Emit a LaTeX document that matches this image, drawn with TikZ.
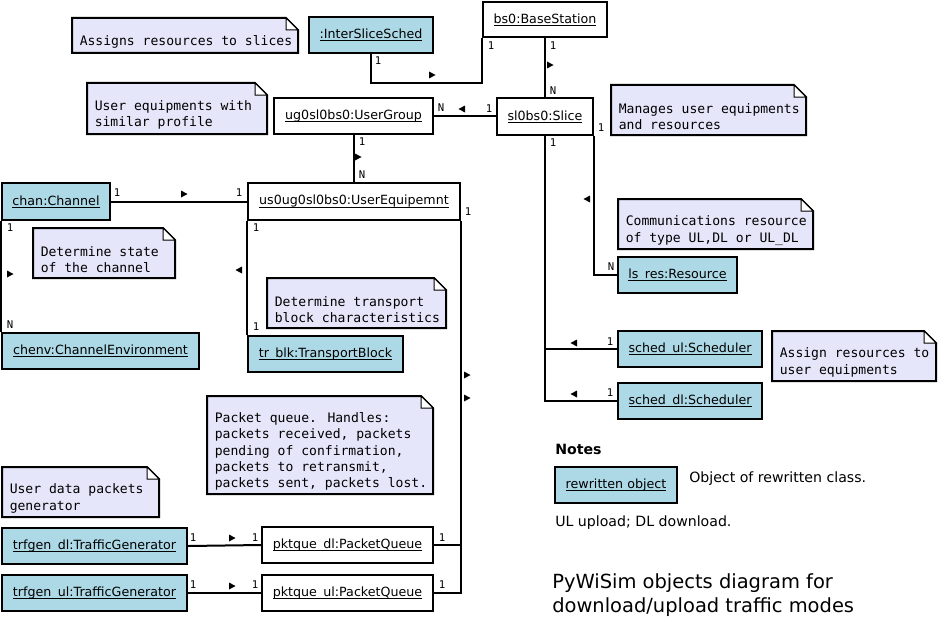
\documentclass[tikz,border=0pt]{standalone}
\usepackage{fontspec}
\setmainfont{DejaVu Sans}
\newfontfamily\monofont{DejaVu Sans Mono}
\definecolor{objblue}{RGB}{173,216,230}
\definecolor{notefill}{RGB}{230,230,250}
\newcommand\ulx[1]{\setbox0\hbox{#1}\rlap{\rule[-1.8pt]{\wd0}{0.6pt}}\box0}
\tikzset{
 conn/.style={line width=1.5pt},
 objbase/.style={draw, line width=1.5pt, inner sep=0pt, font=\fontsize{9.5}{11}\selectfont},
 objw/.style={objbase, fill=white},
 objb/.style={objbase, fill=objblue},
 notebody/.style={draw, line width=1.5pt, fill=notefill},
 notefold/.style={draw, line width=0.75pt, fill=white},
 notetext/.style={anchor=west, inner sep=0pt, align=left, font=\monofont\fontsize{9.8}{12.2}\selectfont},
 mult/.style={inner sep=0pt, font=\monofont\fontsize{8}{9}\selectfont},
 legtext/.style={anchor=west, inner sep=0pt, font=\fontsize{10.6}{13}\selectfont},
 rtri/.pic={\fill (-3,-3.5) -- (3.5,0) -- (-3,3.5) -- cycle;},
 ltri/.pic={\fill (3,-3.5) -- (-3.5,0) -- (3,3.5) -- cycle;},
}
\newcommand\objbox[7]{\node[#6, minimum width={(#4-#2)*0.75pt}, minimum height={(#5-#3)*0.75pt}] (#1) at ({(#2+#4)/2},{(#3+#5)/2}) {\ulx{#7}};}
\newcommand\notebox[6]{%
 \draw[notebody] (#2,#3) -- ({#4-12},#3) -- (#4,{#3+12}) -- (#4,#5) -- (#2,#5) -- cycle;
 \draw[notefold] ({#4-12},#3) -- ({#4-12},{#3+12}) -- (#4,{#3+12}) -- cycle;
 \node[notetext] (#1) at ({#2+7.5},{(#3+#5)/2+6.5}) {#6};}
\begin{document}
\begin{tikzpicture}[x=0.75pt, y=-0.75pt]
\useasboundingbox[fill=white] (0,0) rectangle (938,617);
% notes
\notebox{n1}{72}{18}{298}{53}{Assigns resources to slices}
\notebox{n2}{87}{83}{267}{134}{User equipments with\\similar profile}
\notebox{n3}{611}{85}{806}{135}{Manages user equipments\\and resources}
\notebox{n4}{33}{228}{175}{278}{Determine state\\of the channel}
\notebox{n5}{267}{278}{446}{328}{Determine transport\\block characteristics}
\notebox{n6}{618}{199}{813}{249}{Communications resource\\of type UL,DL or UL\_DL}
\notebox{n7}{772}{331}{936}{381}{Assign resources to\\user equipments}
\notebox{n8}{207}{396}{433}{494}{Packet queue. Handles:\\packets received, packets\\pending of confirmation,\\packets to retransmit,\\packets sent, packets lost.}
\notebox{n9}{2}{467}{159}{517}{User data packets\\generator}
% objects
\objbox{iss}{309}{17}{433}{53}{objb}{:InterSliceSched}
\objbox{bs}{483}{2}{607}{37}{objw}{bs0:BaseStation}
\objbox{ug}{274}{98}{433}{134}{objw}{ug0sl0bs0:UserGroup}
\objbox{sl}{497}{98}{593}{135}{objw}{sl0bs0:Slice}
\objbox{chan}{2}{183}{110}{220}{objb}{chan:Channel}
\objbox{ue}{248}{183}{460}{220}{objw}{us0ug0sl0bs0:UserEquipemnt}
\objbox{chenv}{2}{333}{199}{369}{objb}{chenv:ChannelEnvironment}
\objbox{trb}{248}{336}{403}{372}{objb}{tr\_blk:TransportBlock}
\objbox{res}{618}{257}{737}{293}{objb}{ls\_res:Resource}
\objbox{su}{618}{331}{762}{367}{objb}{sched\_ul:Scheduler}
\objbox{sd}{618}{383}{762}{419}{objb}{sched\_dl:Scheduler}
\objbox{td}{2}{528}{187}{564}{objb}{trfgen\_dl:TrafficGenerator}
\objbox{pd}{262}{527}{433}{563}{objw}{pktque\_dl:PacketQueue}
\objbox{tu}{2}{575}{187}{611}{objb}{trfgen\_ul:TrafficGenerator}
\objbox{pu}{262}{575}{433}{611}{objw}{pktque\_ul:PacketQueue}
\objbox{leg}{555}{467}{677}{503}{objb}{rewritten object}
% connectors
\draw[conn] (iss.south) -- ++(0,29) -| (bs.south west);
\draw[conn] (bs.south) -- (sl.north);
\draw[conn] (ug.east) -- (ug.east -| sl.west);
\draw[conn] (ug.south) -- (ug.south |- ue.north);
\draw[conn] (chan.east) -- (ue.west);
\draw[conn] (chan.south west) -- (chenv.north west);
\draw[conn] (ue.south west) -- (trb.north west);
\draw[conn] (ue.south east) |- (pu.east);
\draw[conn] (pd.east) -- (pd.east -| ue.south east);
\draw[conn] (sl.south) |- (sd.west);
\draw[conn] (su.west) -- (su.west -| sl.south);
\draw[conn] (sl.south east) |- (res.west);
\draw[conn] (td.east) -- (pd.west);
\draw[conn] (tu.east) -- (pu.west);
% direction marks
\pic at (432,75) {rtri};
\pic at (550,65) {rtri};
\pic at (462,109) {ltri};
\pic at (358,157) {rtri};
\pic at (184,194) {rtri};
\pic at (10,274) {rtri};
\pic at (239,270) {ltri};
\pic at (587,199) {ltri};
\pic at (574,343) {ltri};
\pic at (574,394) {ltri};
\pic at (467,375) {rtri};
\pic at (467,398) {rtri};
\pic at (232,538) {rtri};
\pic at (232,586) {rtri};
% multiplicities
\node[mult] (m1) at (378,61) {1};
\node[mult] (m2) at (491,46) {1};
\node[mult] (m3) at (553,46) {1};
\node[mult] (m4) at (553,91) {N};
\node[mult] (m5) at (441,108) {N};
\node[mult] (m6) at (489,109) {1};
\node[mult] (m7) at (601,128) {1};
\node[mult] (m8) at (553,143) {1};
\node[mult] (m9) at (362,142) {1};
\node[mult] (m10) at (362,175) {N};
\node[mult] (m11) at (117,193) {1};
\node[mult] (m12) at (239,193) {1};
\node[mult] (m13) at (468,212) {1};
\node[mult] (m14) at (10,228) {1};
\node[mult] (m15) at (10,325) {N};
\node[mult] (m16) at (256,228) {1};
\node[mult] (m17) at (256,327) {1};
\node[mult] (m18) at (611,267) {N};
\node[mult] (m19) at (610,342) {1};
\node[mult] (m20) at (610,393) {1};
\node[mult] (m21) at (193,538) {1};
\node[mult] (m22) at (255,538) {1};
\node[mult] (m23) at (442,538) {1};
\node[mult] (m24) at (193,585) {1};
\node[mult] (m25) at (255,585) {1};
\node[mult] (m26) at (442,585) {1};
% legend
\node[legtext, font=\bfseries\fontsize{10.6}{13}\selectfont] (legtitle) at (555,449) {Notes};
\node[legtext] (legobj) at (689,479) {Object of rewritten class.};
\node[legtext] (legul) at (555,523) {UL upload; DL download.};
\node[anchor=west, inner sep=0pt, align=left, font=\fontsize{14.6}{18}\selectfont] (title) at (552,595) {PyWiSim objects diagram for\\download/upload traffic modes};
\end{tikzpicture}
\end{document}
